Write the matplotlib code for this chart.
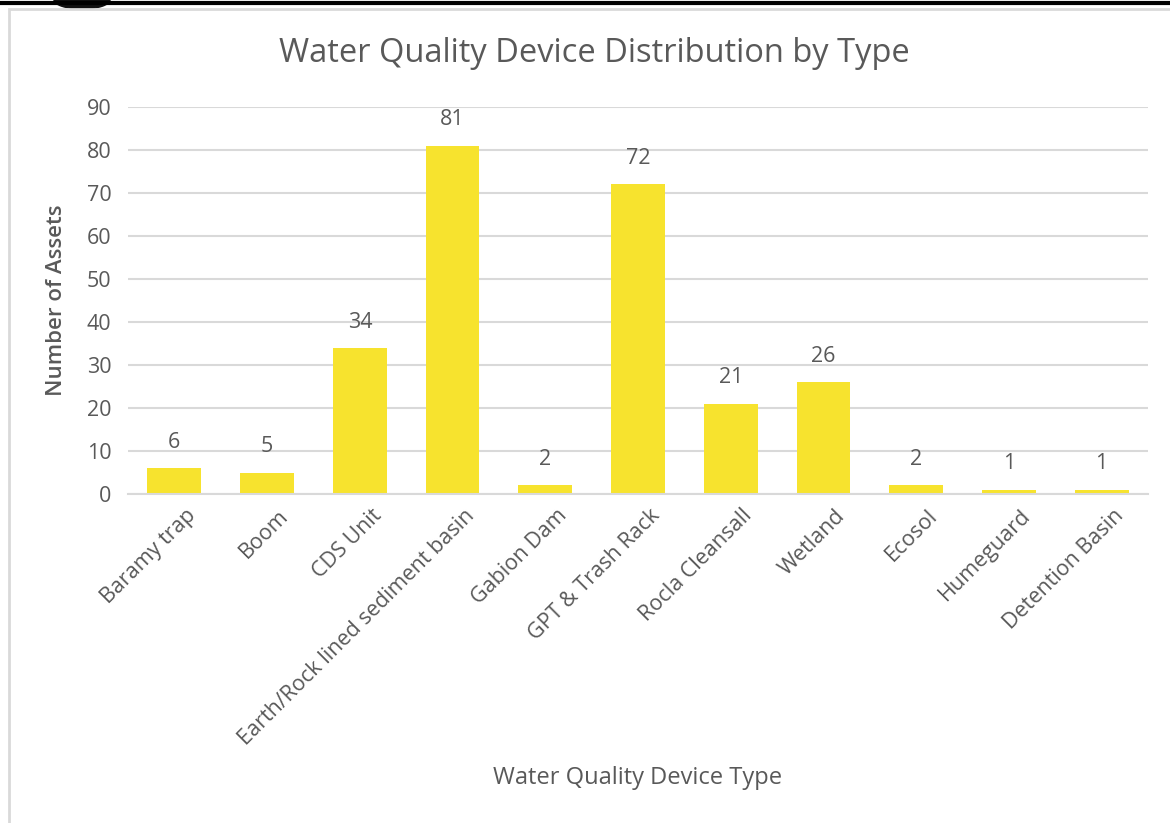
import matplotlib.pyplot as plt
from matplotlib.patches import Rectangle, Ellipse
from matplotlib.lines import Line2D

plt.rcParams['font.family'] = ['Open Sans', 'DejaVu Sans']

# data
device_types = ['Baramy trap', 'Boom', 'CDS Unit', 'Earth/Rock lined sediment basin',
                'Gabion Dam', 'GPT & Trash Rack', 'Rocla Cleansall', 'Wetland',
                'Ecosol', 'Humeguard', 'Detention Basin']
asset_counts = [6, 5, 34, 81, 2, 72, 21, 26, 2, 1, 1]
y_ticks = [0, 10, 20, 30, 40, 50, 60, 70, 80, 90]

text_col = '#595959'
bar_col = '#F7E32E'
grid_col = '#D9D9D9'

fig = plt.figure(figsize=(11.7, 8.23), dpi=100)

# screenshot frame: black line on top, a dark blob, and the light chart border
fig.add_artist(Line2D([0, 1], [1 - 2.5/823, 1 - 2.5/823], color='black', lw=3,
                      transform=fig.transFigure))
fig.add_artist(Ellipse((82/1170, 1.0), 56/1170, 18/823, color='#111111',
                       transform=fig.transFigure))
fig.add_artist(Rectangle((9/1170, -0.05), 1.2, 1 - 9/823 + 0.05, fill=False,
                         edgecolor=grid_col, lw=2, transform=fig.transFigure))

ax = fig.add_axes([128/1170, 329/823, 1020/1170, 387/823])
x = range(len(device_types))
bars = ax.bar(x, asset_counts, width=0.58, color=bar_col, zorder=2)
ax.bar_label(bars, padding=11, fontsize=15.5, color=text_col)

ax.set_xlim(-0.5, len(device_types) - 0.5)
ax.set_ylim(0, 90)
ax.set_yticks(y_ticks)
ax.yaxis.grid(True, color=grid_col, lw=1.5, zorder=0)
ax.set_axisbelow(True)
for s in ['top', 'right', 'left']:
    ax.spines[s].set_visible(False)
ax.spines['bottom'].set_color(grid_col)
ax.spines['bottom'].set_linewidth(1.5)
ax.tick_params(length=0, labelsize=15.5, colors=text_col, pad=12)

ax.set_xticks([i + 0.12 for i in x])
ax.set_xticklabels(device_types, rotation=45, ha='right', rotation_mode='anchor')
ax.tick_params(axis='x', pad=8)

ax.set_ylabel('Number of Assets', fontsize=16, color=text_col, fontweight='semibold', labelpad=14)
fig.text(638/1170, 1 - 778/823, 'Water Quality Device Type', fontsize=17, color=text_col,
         ha='center', va='center')
fig.text(594/1170, 1 - 53/823, 'Water Quality Device Distribution by Type', fontsize=23.5,
         color=text_col, ha='center', va='center')

fig.savefig('out.png', dpi=100, facecolor='white')
